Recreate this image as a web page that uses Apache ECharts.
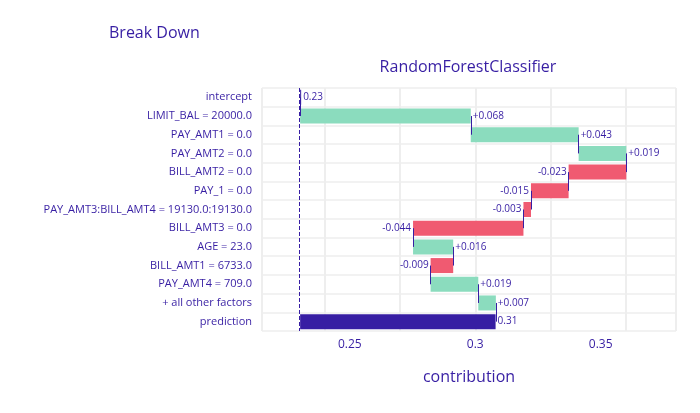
<!DOCTYPE html>
<html><head><meta charset="utf-8">
<script src="https://cdn.jsdelivr.net/npm/echarts@6/dist/echarts.min.js"></script>
<style>html,body{margin:0;padding:0;background:#fff}#chart{width:700px;height:413px}</style>
</head><body><div id="chart"></div>
<script>
var categories = ['intercept', 'LIMIT_BAL = 20000.0', 'PAY_AMT1 = 0.0', 'PAY_AMT2 = 0.0', 'BILL_AMT2 = 0.0',
  'PAY_1 = 0.0', 'PAY_AMT3:BILL_AMT4 = 19130.0:19130.0', 'BILL_AMT3 = 0.0', 'AGE = 23.0',
  'BILL_AMT1 = 6733.0', 'PAY_AMT4 = 709.0', '+ all other factors', 'prediction'];
var intercept = 0.2302;
var contributions = [0.068, 0.043, 0.019, -0.023, -0.015, -0.003, -0.044, 0.016, -0.009, 0.019, 0.007];
var prediction = 0.3081;
var xTicks = [0.25, 0.3, 0.35];

var purple = '#371ea3', green = '#8bdcbe', red = '#f05a71';
var chart = echarts.init(document.getElementById('chart'));

var base = [], vis = [], connectors = [];
base.push(intercept);
vis.push({value: 0.0004, itemStyle: {color: purple},
  label: {show: true, position: 'right', formatter: '0.23'}});
var cur = intercept;
contributions.forEach(function (c, i) {
  var next = cur + c;
  base.push(Math.min(cur, next));
  vis.push({value: Math.abs(c), itemStyle: {color: c >= 0 ? green : red},
    label: {show: true, position: c >= 0 ? 'right' : 'left',
      formatter: (c >= 0 ? '+' : '') + c.toFixed(3).replace('0.', '0.')}});
  connectors.push([{coord: [cur, categories[i]]}, {coord: [cur, categories[i + 1]]}]);
  cur = next;
});
connectors.push([{coord: [cur, categories[11]]}, {coord: [cur, categories[12]]}]);
base.push(intercept);
vis.push({value: prediction - intercept, itemStyle: {color: purple},
  label: {show: true, position: 'right', formatter: '0.31'}});

chart.setOption({
  animation: false,
  textStyle: {fontFamily: 'Open Sans'},
  title: [
    {text: 'Break Down', left: 104, top: 20, textStyle: {color: purple, fontSize: 16, fontWeight: 'normal'}},
    {text: 'RandomForestClassifier', left: 463, top: 54, textAlign: 'center', textStyle: {color: purple, fontSize: 16, fontWeight: 'normal'}}
  ],
  grid: {left: 262, right: 24, top: 88, bottom: 82},
  xAxis: {type: 'value', min: 0.215, max: 0.38, name: 'contribution', nameLocation: 'middle', nameGap: 38,
    nameTextStyle: {color: purple, fontSize: 16},
    axisLine: {show: false}, axisTick: {show: false},
    axisLabel: {color: purple, fontSize: 12, customValues: xTicks, formatter: function (v) { return String(+v.toFixed(2)); }},
    splitLine: {show: true, lineStyle: {color: '#eeeeee', width: 2}}
  },
  yAxis: {type: 'category', data: categories, inverse: true,
    axisLine: {show: false}, axisTick: {show: false},
    axisLabel: {color: purple, fontSize: 11, margin: 10},
    splitLine: {show: true, interval: 0, lineStyle: {color: '#f2f2f2', width: 2}}
  },
  series: [
    {type: 'bar', stack: 'a', data: base, barWidth: 15, itemStyle: {color: 'transparent'}, silent: true,
      markLine: {symbol: 'none', silent: true, label: {show: false},
        data: [{xAxis: intercept, lineStyle: {color: purple, type: 'dashed', width: 1}}].concat(
          connectors.map(function (s) { return [Object.assign({lineStyle: {color: purple, type: 'solid', width: 1}}, s[0]), s[1]]; }))}
    },
    {type: 'bar', stack: 'a', data: vis, barWidth: 15,
      label: {color: purple, fontSize: 10, distance: 2}}
  ]
});
</script></body></html>
